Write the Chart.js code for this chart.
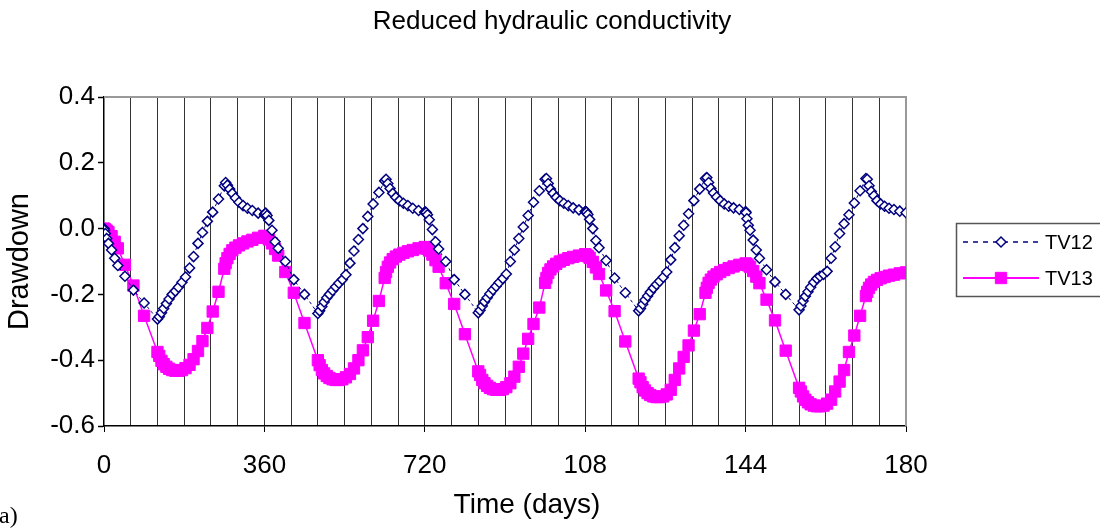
<!DOCTYPE html>
<html>
<head>
<meta charset="utf-8">
<title>Reduced hydraulic conductivity</title>
<script src="https://cdn.jsdelivr.net/npm/chart.js@4.4.0/dist/chart.umd.min.js"></script>
<style>
  html, body { margin: 0; padding: 0; background: #fff; }
</style>
</head>
<body>
<canvas id="chart" width="1100" height="529"></canvas>
<script>
// observation times (days), one row per 360-day cycle
const days = [
  0,
  1, 3, 6, 10, 17, 24, 31, 47, 66, 90, 120, 124, 129, 134, 140, 146, 153, 160, 167, 175, 183, 192, 201, 211, 221, 232, 244, 257, 270, 273, 277, 282, 288, 295, 303, 312, 322, 333, 346, 360,
  361, 363, 366, 370, 377, 384, 391, 407, 426, 450, 480, 484, 489, 494, 500, 506, 513, 520, 527, 535, 543, 552, 561, 571, 581, 592, 604, 617, 630, 633, 637, 642, 648, 655, 663, 672, 682, 693, 706, 720,
  721, 723, 726, 730, 737, 744, 751, 767, 786, 810, 840, 844, 849, 854, 860, 866, 873, 880, 887, 895, 903, 912, 921, 931, 941, 952, 964, 977, 990, 993, 997, 1002, 1008, 1015, 1023, 1032, 1042, 1053, 1066, 1080,
  1081, 1083, 1086, 1090, 1097, 1104, 1111, 1127, 1146, 1170, 1200, 1204, 1209, 1214, 1220, 1226, 1233, 1240, 1247, 1255, 1263, 1272, 1281, 1291, 1301, 1312, 1324, 1337, 1350, 1353, 1357, 1362, 1368, 1375, 1383, 1392, 1402, 1413, 1426, 1440,
  1441, 1443, 1446, 1450, 1457, 1464, 1471, 1487, 1506, 1530, 1560, 1564, 1569, 1574, 1580, 1586, 1593, 1600, 1607, 1615, 1623, 1632, 1641, 1651, 1661, 1672, 1684, 1697, 1710, 1713, 1717, 1722, 1728, 1735, 1743, 1752, 1762, 1773, 1786, 1800
];

const tv12 = [
  0,
  -0.005, -0.015, -0.03, -0.045, -0.065, -0.09, -0.112, -0.145, -0.187, -0.226, -0.275,
  -0.268, -0.256, -0.243, -0.228, -0.214, -0.2, -0.19, -0.178, -0.163, -0.147, -0.12, -0.085, -0.045, -0.012, 0.022, 0.05, 0.09, 0.13,
  0.14, 0.132, 0.12, 0.107, 0.093, 0.08, 0.07, 0.062, 0.055, 0.047, 0.042,
  0.045, 0.047, 0.04, 0.025, -0.005, -0.04, -0.06, -0.1, -0.155, -0.2, -0.258,
  -0.25, -0.237, -0.223, -0.21, -0.2, -0.188, -0.177, -0.166, -0.155, -0.14, -0.105, -0.068, -0.033, 0.0, 0.037, 0.075, 0.11, 0.145,
  0.15, 0.137, 0.122, 0.107, 0.095, 0.085, 0.077, 0.07, 0.062, 0.055, 0.05,
  0.05, 0.049, 0.042, 0.027, -0.003, -0.04, -0.062, -0.1, -0.155, -0.2, -0.256,
  -0.248, -0.235, -0.222, -0.21, -0.198, -0.186, -0.175, -0.164, -0.152, -0.138, -0.1, -0.065, -0.03, 0.005, 0.04, 0.08, 0.115, 0.15,
  0.152, 0.137, 0.12, 0.107, 0.095, 0.085, 0.077, 0.07, 0.063, 0.057, 0.052,
  0.052, 0.05, 0.043, 0.028, 0.0, -0.036, -0.058, -0.097, -0.15, -0.195, -0.25,
  -0.243, -0.23, -0.217, -0.205, -0.193, -0.181, -0.17, -0.16, -0.148, -0.132, -0.095, -0.058, -0.022, 0.01, 0.045, 0.085, 0.12, 0.152,
  0.155, 0.14, 0.122, 0.108, 0.096, 0.085, 0.075, 0.068, 0.063, 0.058, 0.052,
  0.048, 0.03, 0.01, -0.005, -0.035, -0.065, -0.09, -0.125, -0.162, -0.2, -0.247,
  -0.235, -0.22, -0.206, -0.192, -0.178, -0.163, -0.152, -0.145, -0.139, -0.13, -0.09, -0.055, -0.015, 0.015, 0.042, 0.078, 0.115, 0.152,
  0.15, 0.13, 0.113, 0.1, 0.085, 0.075, 0.068, 0.062, 0.058, 0.053, 0.048
];

const tv13 = [
  0,
  -0.001, -0.003, -0.006, -0.011, -0.023, -0.04, -0.06, -0.11, -0.173, -0.265, -0.375,
  -0.387, -0.402, -0.412, -0.42, -0.426, -0.43, -0.432, -0.432, -0.43, -0.424, -0.414, -0.397, -0.372, -0.342, -0.302, -0.252, -0.192, -0.122,
  -0.105, -0.09, -0.077, -0.066, -0.058, -0.051, -0.045, -0.039, -0.034, -0.028, -0.022,
  -0.023, -0.025, -0.028, -0.033, -0.045, -0.062, -0.082, -0.132, -0.195, -0.287, -0.4,
  -0.415, -0.43, -0.44, -0.448, -0.454, -0.458, -0.46, -0.46, -0.458, -0.452, -0.442, -0.425, -0.4, -0.37, -0.33, -0.28, -0.22, -0.15,
  -0.132, -0.116, -0.103, -0.093, -0.085, -0.079, -0.074, -0.069, -0.065, -0.06, -0.056,
  -0.057, -0.059, -0.062, -0.067, -0.079, -0.096, -0.116, -0.166, -0.229, -0.321, -0.434,
  -0.445, -0.46, -0.47, -0.478, -0.484, -0.488, -0.49, -0.49, -0.488, -0.482, -0.47, -0.45, -0.42, -0.38, -0.335, -0.29, -0.24, -0.165,
  -0.15, -0.135, -0.124, -0.115, -0.107, -0.1, -0.095, -0.09, -0.086, -0.082, -0.078,
  -0.079, -0.081, -0.084, -0.089, -0.101, -0.118, -0.138, -0.188, -0.251, -0.343, -0.456,
  -0.467, -0.482, -0.492, -0.5, -0.506, -0.51, -0.512, -0.512, -0.51, -0.504, -0.49, -0.46, -0.425, -0.39, -0.355, -0.31, -0.26, -0.195,
  -0.18, -0.165, -0.155, -0.146, -0.139, -0.132, -0.126, -0.12, -0.115, -0.11, -0.106,
  -0.107, -0.109, -0.112, -0.117, -0.129, -0.146, -0.166, -0.216, -0.279, -0.371, -0.484,
  -0.495, -0.51, -0.52, -0.528, -0.534, -0.538, -0.54, -0.54, -0.538, -0.532, -0.52, -0.495, -0.465, -0.43, -0.375, -0.325, -0.265, -0.205,
  -0.192, -0.18, -0.17, -0.162, -0.156, -0.151, -0.147, -0.143, -0.14, -0.136, -0.133
];

// axis labels
const xLabelDays = [0, 360, 720, 1080, 1440, 1800];
const xTickLabels = ['0', '360', '720', '108', '144', '180'];
const yTickValues = [-0.6, -0.4, -0.2, 0, 0.2, 0.4];
const yTickLabels = ['-0.6', '-0.4', '-0.2', '0.0', '0.2', '0.4'];

const FONT = "'Liberation Sans', Arial, sans-serif";
const toPoints = vals => days.map((d, i) => ({ x: d, y: vals[i] }));

Chart.defaults.font.family = FONT;
Chart.defaults.color = '#000';

// grey top/right edge of the plot area
const plotFrame = {
  id: 'plotFrame',
  beforeDatasetsDraw(chart) {
    const { ctx, chartArea: a } = chart;
    ctx.save();
    ctx.strokeStyle = '#999';
    ctx.lineWidth = 2;
    ctx.beginPath();
    ctx.moveTo(a.left, a.top);
    ctx.lineTo(a.right, a.top);
    ctx.lineTo(a.right, a.bottom);
    ctx.stroke();
    ctx.restore();
  }
};

// title, x-axis caption, panel letter and the boxed legend
const chartText = {
  id: 'chartText',
  afterDraw(chart) {
    const ctx = chart.ctx;
    ctx.save();
    ctx.fillStyle = '#000';
    ctx.textAlign = 'center';
    ctx.textBaseline = 'middle';
    ctx.font = '26px ' + FONT;
    ctx.fillText('Reduced hydraulic conductivity', 552, 22);
    ctx.font = '28px ' + FONT;
    ctx.fillText('Time (days)', 527, 505);

    ctx.textAlign = 'left';
    ctx.font = "24px 'Liberation Serif', 'Times New Roman', serif";
    ctx.textBaseline = 'alphabetic';
    ctx.fillText('a)', -1, 523);

    ctx.strokeStyle = '#555';
    ctx.lineWidth = 1.5;
    ctx.strokeRect(956.5, 223.5, 150, 73);
    chart.data.datasets.forEach((ds, i) => {
      const y = 242 + i * 36;
      ctx.strokeStyle = ds.borderColor;
      ctx.lineWidth = ds.borderWidth + 0.5;
      ctx.setLineDash(ds.borderDash ? [5, 5] : []);
      ctx.beginPath();
      ctx.moveTo(963, y);
      ctx.lineTo(1039, y);
      ctx.stroke();
      ctx.setLineDash([]);
      ctx.fillStyle = ds.pointBackgroundColor;
      ctx.strokeStyle = ds.pointBorderColor;
      ctx.lineWidth = ds.pointBorderWidth;
      Chart.helpers.drawPoint(ctx, {
        pointStyle: ds.pointStyle,
        radius: ds.pointRadius,
        borderWidth: ds.pointBorderWidth,
        rotation: 0
      }, 1001, y);
      ctx.fillStyle = '#000';
      ctx.font = '20px ' + FONT;
      ctx.textBaseline = 'middle';
      ctx.fillText(ds.label, 1045, y + 1);
    });
    ctx.restore();
  }
};

new Chart(document.getElementById('chart'), {
  type: 'line',
  data: {
    datasets: [
      {
        label: 'TV12',
        data: toPoints(tv12),
        borderColor: '#000080',
        borderWidth: 1,
        borderDash: [3, 3],
        pointStyle: 'rectRot',
        pointRadius: 5,
        pointBorderWidth: 1.5,
        pointBorderColor: '#000080',
        pointBackgroundColor: '#fff'
      },
      {
        label: 'TV13',
        data: toPoints(tv13),
        borderColor: '#ff00ff',
        borderWidth: 1.5,
        pointStyle: 'rect',
        pointRadius: 8,
        pointBorderWidth: 1,
        pointBorderColor: '#ff00ff',
        pointBackgroundColor: '#ff00ff'
      }
    ]
  },
  options: {
    responsive: false,
    animation: false,
    layout: { padding: { left: 0, right: 194, top: 97, bottom: 0 } },
    plugins: {
      legend: { display: false },
      tooltip: { enabled: false },
      title: { display: false }
    },
    scales: {
      x: {
        type: 'linear',
        min: 0,
        max: 1800,
        afterFit: s => { s.height = 103; },
        ticks: {
          stepSize: 60,
          autoSkip: false,
          maxRotation: 0,
          padding: 18,
          font: { size: 26 },
          callback: v => {
            const k = xLabelDays.indexOf(v);
            return k < 0 ? '' : xTickLabels[k];
          }
        },
        grid: {
          color: c => (c.tick && c.tick.value > 0 && c.tick.value < 1800) ? '#333' : 'rgba(0,0,0,0)',
          tickColor: c => (c.tick && c.tick.value % 360 === 0) ? '#000' : 'rgba(0,0,0,0)',
          tickLength: 6,
          lineWidth: 1
        },
        border: { color: '#000', width: 1.5 }
      },
      y: {
        min: -0.6,
        max: 0.4,
        afterBuildTicks: s => { s.ticks = yTickValues.map(v => ({ value: v })); },
        afterFit: s => { s.width = 104; },
        ticks: {
          padding: 3,
          font: { size: 26 },
          callback: (v, i) => yTickLabels[i]
        },
        grid: { drawOnChartArea: false, tickLength: 6, tickColor: '#000', tickWidth: 1.5 },
        border: { color: '#000', width: 1.5 },
        title: {
          display: true,
          text: 'Drawdown',
          font: { size: 29 },
          padding: { top: 3, bottom: 0 }
        }
      }
    }
  },
  plugins: [plotFrame, chartText]
});
</script>
</body>
</html>
